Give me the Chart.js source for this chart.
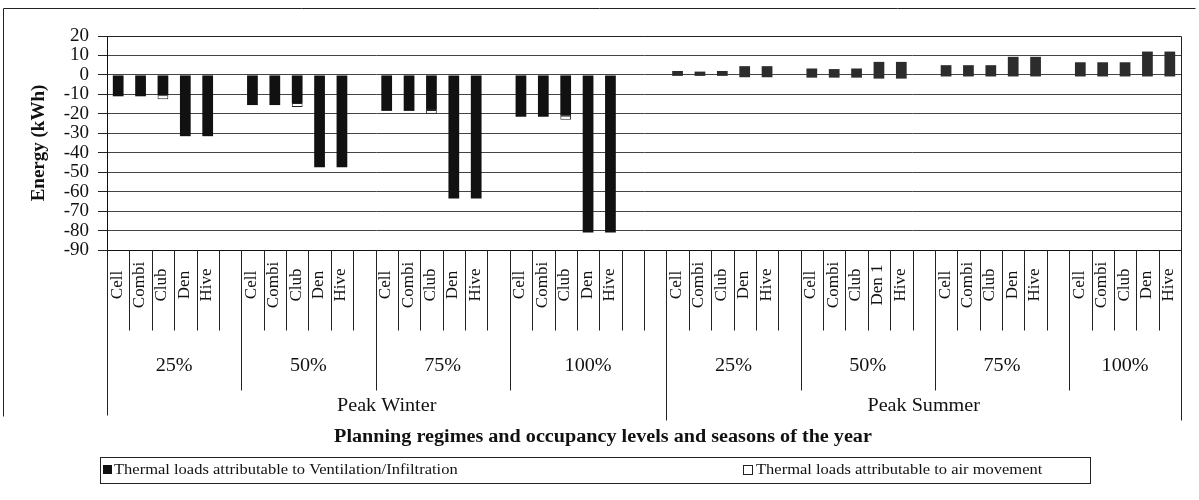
<!DOCTYPE html>
<html>
<head>
<meta charset="utf-8">
<script src="https://cdn.jsdelivr.net/npm/chart.js@4.4.0/dist/chart.umd.min.js"></script>
<style>
  html, body { margin: 0; padding: 0; background: #fff; }
  #wrap { width: 1199px; height: 500px; }
</style>
</head>
<body>
<div id="wrap"><canvas id="chart" width="1199" height="500"></canvas></div>
<script>
// x slots: planning regime per occupancy level, blank slots are gaps in the original sheet
const categories = [
  "Cell", "Combi", "Club", "Den", "Hive", "",
  "Cell", "Combi", "Club", "Den", "Hive", "",
  "Cell", "Combi", "Club", "Den", "Hive", "",
  "Cell", "Combi", "Club", "Den", "Hive", "", "",
  "Cell", "Combi", "Club", "Den", "Hive", "",
  "Cell", "Combi", "Club", "Den 1", "Hive", "",
  "Cell", "Combi", "Club", "Den", "Hive", "",
  "Cell", "Combi", "Club", "Den", "Hive"
];
const occupancyLabels = ["25%", "50%", "75%", "100%", "25%", "50%", "75%", "100%"];
const occupancySpans = [6, 6, 6, 7, 6, 6, 6, 5];
const seasonLabels = ["Peak Winter", "Peak Summer"];
const seasonSpans = [25, 23];

// [from, to] in kWh
const ventilation = [
  [0, -11], [0, -11], [0, -10.5], [0, -31.5], [0, -31.5], null,
  [0, -15.5], [0, -15.5], [0, -14.5], [0, -47.5], [0, -47.5], null,
  [0, -18.5], [0, -18.5], [0, -18], [0, -63.5], [0, -63.5], null,
  [0, -21.5], [0, -21.5], [0, -21], [0, -81], [0, -81], null, null,
  [-0.5, 2], [-0.5, 1.7], [-0.5, 2], [-1.2, 4.5], [-1.2, 4.5], null,
  [-1.4, 3.3], [-1.4, 3], [-1.4, 3.3], [-1.9, 6.7], [-1.9, 6.7], null,
  [-0.8, 5], [-0.8, 5], [-0.8, 5], [-0.8, 9.3], [-0.8, 9.3], null,
  [-0.8, 6.5], [-0.8, 6.5], [-0.8, 6.5], [-0.8, 12], [-0.8, 12]
];
const airMovement = [
  null, null, [-10.5, -12.5], null, null, null,
  null, null, [-14.5, -16.5], null, null, null,
  null, null, [-18, -20], null, null, null,
  null, null, [-21, -23], null, null, null, null,
  null, null, null, null, null, null,
  null, null, null, null, null, null,
  null, null, null, null, null, null,
  null, null, null, null, null
];
const yMin = -90, yMax = 20, yStep = 10;

const SERIF = "'Liberation Serif', 'DejaVu Serif', serif";
const INK = "#111";

function text(ctx, str, x, y, font, sx, align) {
  ctx.save();
  ctx.translate(x, y);
  ctx.scale(sx, 1);
  ctx.font = font;
  ctx.fillStyle = INK;
  ctx.textAlign = align || "center";
  ctx.textBaseline = "middle";
  ctx.fillText(str, 0, 0);
  ctx.restore();
}

function line(ctx, x1, y1, x2, y2) {
  ctx.beginPath();
  ctx.moveTo(Math.round(x1) + 0.5, Math.round(y1) + 0.5);
  ctx.lineTo(Math.round(x2) + 0.5, Math.round(y2) + 0.5);
  ctx.stroke();
}

// draws the three level category axis, frame, x title and boxed legend
const multiAxis = {
  id: "multiAxis",
  afterDraw(chart) {
    const { ctx, chartArea: a, scales: { x } } = chart;
    const half = (x.getPixelForValue(1) - x.getPixelForValue(0)) / 2;
    const edge = i => x.getPixelForValue(i) - half;

    ctx.save();
    ctx.strokeStyle = "#222";
    ctx.lineWidth = 1;

    // outer frame
    line(ctx, 3, 8, 1195, 8);
    line(ctx, 3, 8, 3, 416);

    line(ctx, a.left, a.top, a.right, a.top);
    line(ctx, a.right, a.top, a.right, a.bottom);

    for (let i = 0; i <= categories.length; i++) line(ctx, edge(i), a.bottom, edge(i), 330);
    let k = 0;
    occupancySpans.forEach(n => { k += n; line(ctx, edge(k), a.bottom, edge(k), 390); });
    line(ctx, edge(0), a.bottom, edge(0), 415);
    k = 0;
    seasonSpans.forEach(n => { k += n; line(ctx, edge(k), a.bottom, edge(k), 420); });

    // slot labels, rotated
    categories.forEach((c, i) => {
      if (!c) return;
      ctx.save();
      ctx.translate(x.getPixelForValue(i) - 1, 285);
      ctx.rotate(-Math.PI / 2);
      ctx.font = "17px " + SERIF;
      ctx.fillStyle = INK;
      ctx.textAlign = "center";
      ctx.textBaseline = "middle";
      ctx.fillText(c, 0, 0);
      ctx.restore();
    });

    k = 0;
    occupancyLabels.forEach((lab, j) => {
      const mid = (edge(k) + edge(k + occupancySpans[j])) / 2;
      text(ctx, lab, mid, 366, "18px " + SERIF, 1.12);
      k += occupancySpans[j];
    });
    k = 0;
    seasonLabels.forEach((lab, j) => {
      const mid = (edge(k) + edge(k + seasonSpans[j])) / 2;
      text(ctx, lab, mid, 406, "18px " + SERIF, 1.12);
      k += seasonSpans[j];
    });

    text(ctx, "Planning regimes and occupancy levels and seasons of the year", 603, 437,
      "bold 18px " + SERIF, 1.12);

    // legend
    const ds = chart.data.datasets;
    ctx.strokeRect(100.5, 457.5, 990, 26);
    ctx.fillStyle = INK;
    ctx.fillRect(103, 465, 9, 9);
    text(ctx, ds[0].label, 114, 470, "15px " + SERIF, 1.1, "left");
    ctx.fillStyle = "#fff";
    ctx.fillRect(743, 465, 9, 9);
    ctx.strokeRect(743.5, 465.5, 9, 9);
    text(ctx, ds[1].label, 756, 470, "15px " + SERIF, 1.1, "left");
    ctx.restore();
  }
};

new Chart(document.getElementById("chart"), {
  type: "bar",
  data: {
    labels: categories,
    datasets: [
      {
        label: "Thermal loads attributable to Ventilation/Infiltration",
        data: ventilation,
        backgroundColor: categories.map((c, i) => i < seasonSpans[0] ? "#111" : "#2c2c2c"),
        borderWidth: 0,
        grouped: false,
        barPercentage: 0.48,
        categoryPercentage: 1
      },
      {
        label: "Thermal loads attributable to air movement",
        data: airMovement,
        backgroundColor: "#fff",
        borderColor: "#222",
        borderWidth: 1,
        borderSkipped: false,
        grouped: false,
        barPercentage: 0.48,
        categoryPercentage: 1
      }
    ]
  },
  options: {
    responsive: false,
    animation: false,
    layout: { padding: { top: 36, right: 18, left: 0, bottom: 0 } },
    plugins: { legend: { display: false }, tooltip: { enabled: false } },
    scales: {
      x: {
        grid: { display: false },
        ticks: { display: false },
        border: { color: "#111" },
        afterFit: s => { s.height = 250; }
      },
      y: {
        min: yMin,
        max: yMax,
        ticks: { stepSize: yStep, autoSkip: false, color: INK, padding: 9, font: { family: SERIF, size: 19 } },
        grid: { color: "#444", lineWidth: 1, tickLength: 9, tickColor: "#222" },
        border: { color: "#111" },
        title: {
          display: true,
          text: "Energy (kWh)",
          color: INK,
          font: { family: SERIF, size: 19, weight: "bold" },
          padding: { top: 28, bottom: 0 }
        },
        afterFit: s => { s.width = 107; }
      }
    }
  },
  plugins: [multiAxis]
});
</script>
</body>
</html>
